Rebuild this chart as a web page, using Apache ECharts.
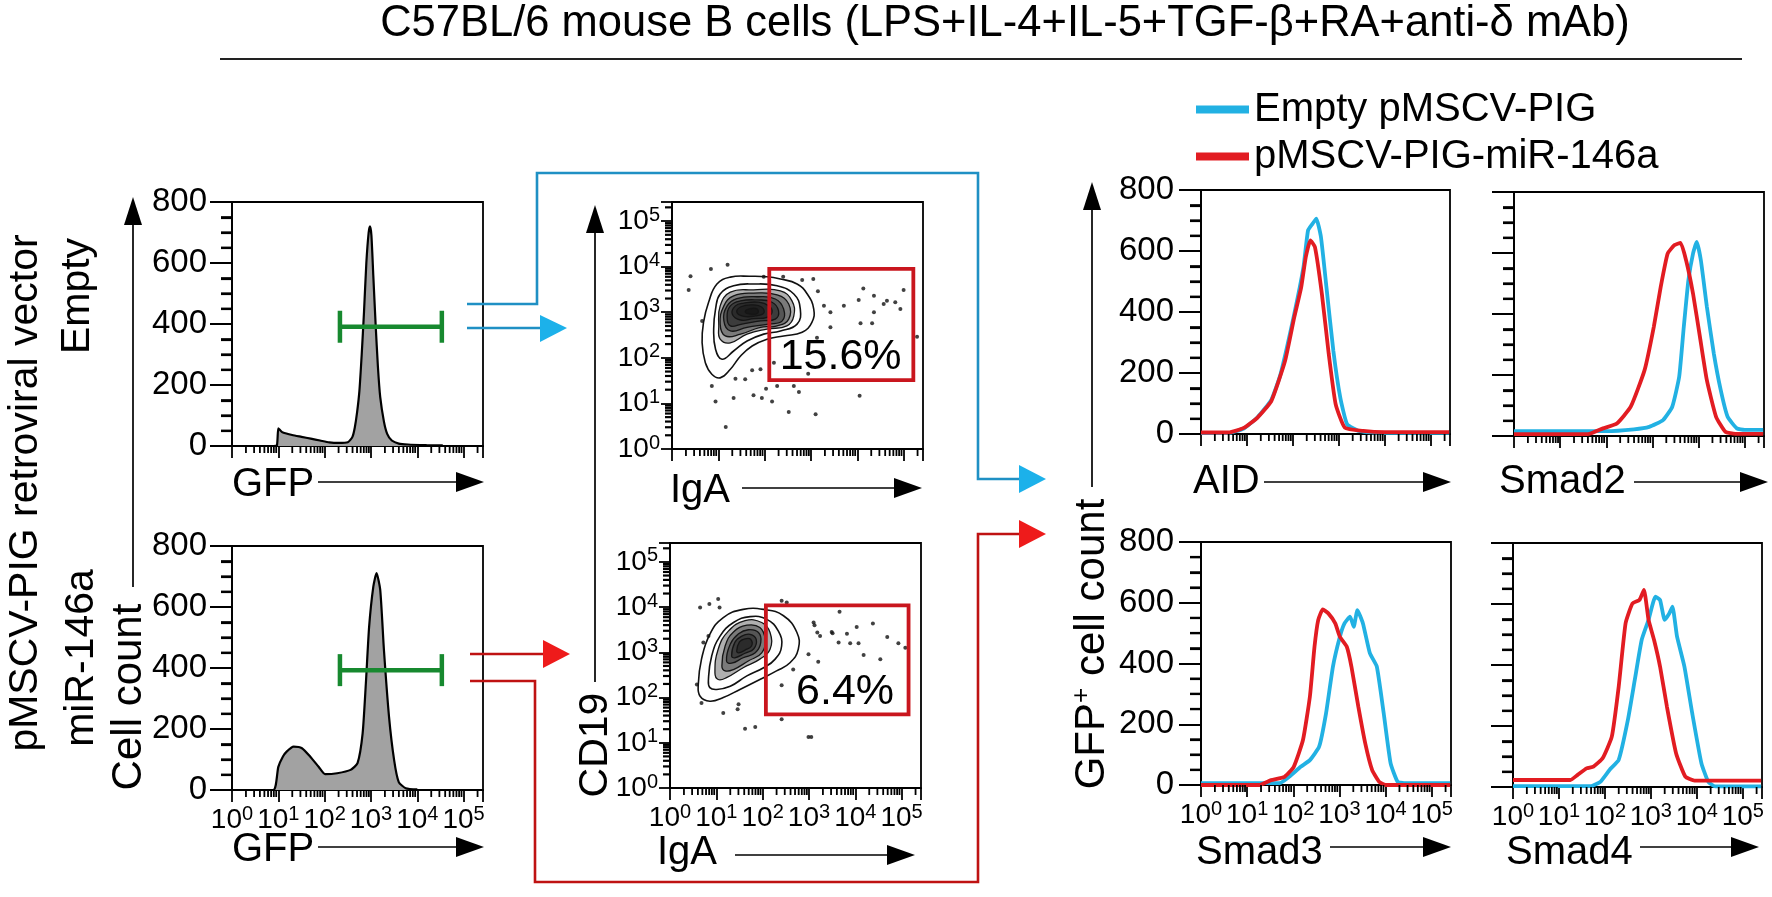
<!DOCTYPE html>
<html><head><meta charset="utf-8">
<script src="https://cdn.jsdelivr.net/npm/echarts@6/dist/echarts.min.js"></script>
<style>html,body{margin:0;padding:0;background:#fff}#c{width:1772px;height:897px}</style>
</head><body><div id="c"></div>
<script>
const FONT = '"Liberation Sans", Arial, Helvetica, sans-serif';
const LOGMAX = 5.4185;           // log10(262144), top of the FACS scale
const DECADES = [0, 1, 2, 3, 4, 5];
const MINOR_MULT = [2, 3, 4, 5, 6, 7, 8, 9];
const COUNT_MINOR = [50, 100, 150, 250, 300, 350, 450, 500, 550, 650, 700, 750];

// ---- GFP histograms (x = log10 GFP, y = cell count)
const gfpEmpty = [[0,0],[0.9,0],[0.97,2],[1.0,58],[1.05,50],[1.1,44],[1.3,36],[1.5,30],[1.7,24],[1.9,18],[2.1,12],[2.3,10],[2.5,12],[2.6,30],[2.65,60],[2.7,110],[2.75,180],[2.8,300],[2.85,440],[2.9,600],[2.95,700],[2.98,720],[3.01,690],[3.05,560],[3.1,400],[3.15,260],[3.2,160],[3.28,80],[3.35,40],[3.45,18],[3.6,8],[3.8,5],[4.2,3],[4.55,2]];
const gfpMir = [[0,0],[0.89,0],[1.0,76],[1.1,110],[1.18,126],[1.33,142],[1.51,137],[1.69,109],[1.87,76],[2.01,52],[2.27,55],[2.56,66],[2.71,88],[2.82,186],[2.89,350],[2.96,535],[3.05,666],[3.12,711],[3.2,656],[3.28,459],[3.39,240],[3.5,98],[3.6,26],[3.75,6],[4.0,2]];
// GFP+ gates: [from, to, level]
const gfpGateEmpty = [2.33, 4.53, 391];
const gfpGateMir = [2.33, 4.53, 393];

// ---- IgA vs CD19 contour plots (log10 units)
const contourEmpty = [
 [[0.65,2.33],[0.68,2.78],[0.79,3.22],[0.97,3.62],[1.26,3.77],[1.69,3.79],[2.05,3.78],[2.34,3.73],[2.70,3.62],[2.92,3.40],[3.06,3.07],[3.02,2.78],[2.81,2.56],[2.41,2.48],[2.05,2.41],[1.73,2.26],[1.48,2.04],[1.26,1.75],[1.04,1.56],[0.86,1.64],[0.72,1.89]],
 [[0.90,2.63],[0.94,3.07],[1.04,3.40],[1.33,3.58],[1.76,3.62],[2.27,3.58],[2.63,3.40],[2.77,3.07],[2.70,2.74],[2.34,2.59],[1.98,2.52],[1.62,2.37],[1.33,2.15],[1.08,1.97],[0.94,2.19]],
 [[1.01,2.70],[1.04,3.14],[1.26,3.44],[1.76,3.49],[2.34,3.47],[2.59,3.25],[2.63,2.92],[2.48,2.70],[2.05,2.63],[1.62,2.52],[1.26,2.33],[1.04,2.41]],
 [[1.04,2.74],[1.12,3.14],[1.33,3.36],[1.76,3.42],[2.27,3.38],[2.52,3.18],[2.52,2.85],[2.27,2.70],[1.91,2.67],[1.48,2.52],[1.15,2.48]],
 [[1.12,2.81],[1.19,3.14],[1.40,3.30],[1.84,3.34],[2.23,3.29],[2.41,3.07],[2.38,2.81],[2.09,2.74],[1.62,2.67],[1.26,2.59]],
 [[1.19,2.89],[1.26,3.14],[1.48,3.25],[1.84,3.27],[2.16,3.22],[2.30,3.03],[2.23,2.85],[1.91,2.81],[1.51,2.74],[1.26,2.70]],
 [[1.30,2.96],[1.37,3.14],[1.55,3.20],[1.87,3.22],[2.09,3.14],[2.16,3.00],[2.05,2.89],[1.76,2.86],[1.48,2.83]],
 [[1.40,3.00],[1.49,3.12],[1.73,3.16],[1.94,3.11],[1.98,2.98],[1.80,2.92],[1.55,2.91]],
 [[1.58,3.01],[1.69,3.08],[1.84,3.07],[1.85,2.98],[1.69,2.96]]
];
const dotsEmpty = [[0.40,3.79],[0.36,3.49],[0.84,3.95],[1.20,4.04],[0.65,2.81],[1.98,3.78],[2.40,3.78],[2.81,3.71],[3.05,3.73],[3.15,3.46],[3.28,3.14],[3.42,3.00],[3.71,3.14],[4.03,3.27],[4.13,3.52],[4.36,3.36],[4.64,3.25],[4.57,3.18],[4.82,3.22],[4.93,3.07],[4.36,3.00],[4.07,2.76],[4.32,2.76],[3.42,2.67],[5.29,2.46],[3.13,2.44],[2.20,1.89],[2.94,1.65],[1.91,1.75],[1.73,1.73],[1.37,1.54],[1.58,1.53],[0.86,1.38],[0.94,1.04],[1.33,1.12],[1.76,1.18],[1.94,1.12],[2.03,1.32],[2.16,1.04],[2.27,1.38],[2.63,1.38],[2.74,1.25],[2.52,0.81],[3.10,0.76],[4.05,1.17],[1.16,0.48],[5.00,3.49]];
const gateEmpty = [2.10, 1.51, 5.21, 3.95];      // [IgA from, CD19 from, IgA to, CD19 to]
const gateEmptyLabel = [3.64, 2.02, '15.6%'];

const contourMir = [
 [[0.61,2.29],[0.68,2.85],[0.86,3.40],[1.15,3.77],[1.58,3.95],[2.02,3.95],[2.45,3.81],[2.74,3.44],[2.77,3.07],[2.59,2.77],[2.30,2.59],[1.94,2.40],[1.51,2.18],[1.15,2.00],[0.86,1.92],[0.65,2.03]],
 [[0.83,2.40],[0.90,2.92],[1.08,3.36],[1.37,3.66],[1.73,3.79],[2.09,3.73],[2.34,3.47],[2.41,3.14],[2.27,2.85],[2.02,2.66],[1.66,2.48],[1.30,2.25],[1.01,2.18],[0.86,2.22]],
 [[0.97,2.55],[1.04,3.07],[1.26,3.47],[1.62,3.70],[1.98,3.66],[2.16,3.44],[2.16,3.07],[1.94,2.85],[1.58,2.66],[1.22,2.44],[1.04,2.40]],
 [[1.12,2.70],[1.19,3.14],[1.37,3.45],[1.66,3.60],[1.94,3.55],[2.05,3.29],[1.98,2.99],[1.69,2.81],[1.37,2.62],[1.19,2.59]],
 [[1.22,2.81],[1.30,3.18],[1.48,3.41],[1.69,3.50],[1.91,3.44],[1.96,3.22],[1.84,2.99],[1.58,2.88],[1.33,2.76]],
 [[1.33,2.92],[1.40,3.22],[1.55,3.36],[1.73,3.40],[1.86,3.29],[1.81,3.08],[1.62,2.98],[1.40,2.88]],
 [[1.44,3.03],[1.50,3.23],[1.62,3.30],[1.74,3.29],[1.76,3.14],[1.62,3.05],[1.48,2.99]]
];
const dotsMir = [[0.65,3.99],[0.85,4.07],[1.04,4.18],[1.07,3.99],[0.83,3.36],[0.72,3.22],[0.58,2.29],[0.68,1.88],[1.15,1.66],[1.48,1.85],[1.46,1.74],[1.62,1.31],[1.84,1.35],[2.41,2.27],[2.66,2.62],[2.41,1.52],[3.10,3.66],[3.12,3.60],[3.18,3.44],[3.24,3.36],[3.49,3.45],[3.51,3.42],[3.64,3.22],[3.66,3.90],[3.82,3.41],[3.89,3.20],[4.03,3.56],[4.07,3.20],[4.18,2.94],[4.38,3.64],[4.54,2.85],[4.69,3.34],[4.93,3.20],[5.08,3.10],[2.99,2.96],[3.20,2.79],[2.99,1.13],[3.05,1.13],[2.41,4.14],[2.52,4.10]];
const gateMir = [2.07, 1.63, 5.15, 4.04];
const gateMirLabel = [3.78, 2.12, '6.4%'];

// ---- GFP+ overlays (blue = Empty pMSCV-PIG, red = pMSCV-PIG-miR-146a)
const aidEmpty = [[0,3],[0.6,3],[0.93,18],[1.23,55],[1.53,112],[1.73,196],[2.03,394],[2.23,547],[2.33,668],[2.43,690],[2.51,706],[2.61,646],[2.73,481],[2.88,273],[3.03,120],[3.18,32],[3.43,10],[3.8,4],[5.4,4]];
const aidMir = [[0,5],[0.6,5],[0.93,20],[1.23,54],[1.53,108],[1.83,240],[2.03,383],[2.18,481],[2.28,580],[2.38,635],[2.48,613],[2.63,460],[2.78,262],[2.93,98],[3.13,21],[3.53,10],[4.0,6],[5.4,6]];
const smad2Empty = [[0,16],[2.0,16],[2.6,22],[2.93,30],[3.23,52],[3.43,96],[3.58,194],[3.68,358],[3.78,511],[3.88,598],[3.96,636],[4.05,576],[4.18,424],[4.33,271],[4.48,151],[4.63,63],[4.83,25],[5.0,20],[5.4,20]];
const smad2Mir = [[0,6],[1.6,6],[1.93,25],[2.23,41],[2.53,96],[2.83,216],[3.03,358],[3.18,489],[3.33,598],[3.48,626],[3.61,633],[3.73,576],[3.88,467],[4.03,325],[4.18,183],[4.38,63],[4.58,14],[4.8,7],[5.4,7]];
const smad3Empty = [[0,6],[1.7,6],[1.91,27],[2.16,60],[2.36,82],[2.56,126],[2.71,236],[2.86,390],[3.01,488],[3.11,532],[3.23,554],[3.31,521],[3.39,576],[3.51,532],[3.66,434],[3.81,390],[3.96,236],[4.11,71],[4.26,11],[4.4,6],[5.4,6]];
const smad3Mir = [[0,0],[1.27,0],[1.52,16],[1.81,27],[2.01,60],[2.21,148],[2.36,291],[2.46,455],[2.54,543],[2.64,578],[2.76,565],[2.91,532],[3.01,488],[3.16,455],[3.26,390],[3.41,258],[3.56,137],[3.71,49],[3.86,11],[4.0,0],[5.4,0]];
const smad4Empty = [[0,3],[1.7,3],[1.9,17],[2.1,56],[2.3,89],[2.5,220],[2.65,351],[2.8,482],[2.95,548],[3.1,624],[3.2,613],[3.3,548],[3.4,569],[3.47,591],[3.57,493],[3.73,395],[3.9,242],[4.1,78],[4.25,17],[4.4,2],[5.4,2]];
const smad4Mir = [[0,23],[1.25,23],[1.4,39],[1.6,61],[1.75,67],[1.95,94],[2.15,165],[2.3,329],[2.45,537],[2.6,602],[2.75,613],[2.85,646],[2.95,548],[3.07,482],[3.2,395],[3.35,263],[3.55,110],[3.75,34],[3.95,21],[5.4,21]];

const NAME_EMPTY = 'Empty pMSCV-PIG';
const NAME_MIR = 'pMSCV-PIG-miR-146a';
const BLUE = '#22b1e3', RED = '#e21c22';

// ---------------------------------------------------------------
const minorLog = [];
DECADES.forEach(d => MINOR_MULT.forEach(m => { const v = d + Math.log10(m); if (v < LOGMAX) minorLog.push(v); }));

const GRIDS = [
  {left:232, top:202, width:251, height:244},  // 0 GFP empty
  {left:232, top:546, width:251, height:244},  // 1 GFP miR
  {left:672, top:202, width:251, height:247},  // 2 contour empty
  {left:670, top:543, width:251, height:245},  // 3 contour miR
  {left:1201, top:190, width:249, height:244}, // 4 AID
  {left:1514, top:192, width:250, height:244}, // 5 Smad2
  {left:1201, top:542, width:250, height:243}, // 6 Smad3
  {left:1513, top:543, width:249, height:244}  // 7 Smad4
].map(g => Object.assign({show:true, borderColor:'#000', borderWidth:1.8, backgroundColor:'transparent', outerBoundsMode:'none', containLabel:false}, g));

const logLabel = v => Math.abs(v - Math.round(v)) < 1e-6 ? '{b|10}{s|' + Math.round(v) + '}' : '';
const logRich = {
  b:{fontSize:28, lineHeight:32, fontFamily:FONT, color:'#000'},
  s:{fontSize:20, lineHeight:20, verticalAlign:'top', fontFamily:FONT, color:'#000'}
};
const AX = {color:'#000', width:1.8};

function xLog(gi, show){
  return {type:'value', gridIndex:gi, min:0, max:LOGMAX, interval:1,
    axisLine:{show:true, onZero:false, lineStyle:AX},
    axisTick:{show:true, length:12, lineStyle:AX},
    axisLabel:{show:show, formatter:logLabel, rich:logRich, margin:14},
    splitLine:{show:false}};
}
function yLog(gi){
  return {type:'value', gridIndex:gi, min:0, max:LOGMAX, interval:1,
    axisLine:{show:true, onZero:false, lineStyle:AX},
    axisTick:{show:true, length:11, lineStyle:AX},
    axisLabel:{show:true, formatter:logLabel, rich:logRich, margin:12},
    splitLine:{show:false}};
}
function yCount(gi, show, margin){
  return {type:'value', gridIndex:gi, min:0, max:800, interval:200,
    axisLine:{show:true, onZero:false, lineStyle:AX},
    axisTick:{show:true, length:22, lineStyle:{color:'#000', width:2}},
    minorTick:{show:true, splitNumber:4, length:11, lineStyle:{color:'#000', width:2.2}},
    axisLabel:{show:show, fontSize:33, fontFamily:FONT, color:'#000', margin:margin},
    splitLine:{show:false}, minorSplitLine:{show:false}};
}

const xAxes = [xLog(0,false), xLog(1,true), xLog(2,false), xLog(3,true), xLog(4,false), xLog(5,false), xLog(6,true), xLog(7,true)];
const yAxes = [yCount(0,true,25), yCount(1,true,25), yLog(2), yLog(3), yCount(4,true,27), yCount(5,false,27), yCount(6,true,27), yCount(7,false,27)];

const series = [];
// log minor ticks on the x axes (one group per panel)
function minorTicksX(gi){
  series.push({type:'custom', xAxisIndex:gi, yAxisIndex:gi, silent:true, clip:false, z:20,
    data:[[0, 0]], encode:{x:0, y:1},
    renderItem:(p, api) => {
      const kids = minorLog.map(v => { const c = api.coord([v, 0]);
        return {type:'rect', shape:{x:c[0] - 0.9, y:c[1], width:1.8, height:7}, style:{fill:'#000'}}; });
      return {type:'group', children:kids};
    }});
}
[0,1,2,3,4,5,6,7].forEach(minorTicksX);

// GFP histograms
[[gfpEmpty,0,'GFP empty'],[gfpMir,1,'GFP miR-146a']].forEach(([d,gi,nm]) => {
  series.push({type:'line', name:nm, xAxisIndex:gi, yAxisIndex:gi, data:d, showSymbol:false, smooth:0.2,
    lineStyle:{color:'#000', width:2.2}, itemStyle:{color:'#000'}, areaStyle:{color:'#a2a2a2', opacity:1}, z:3});
});
// green gates
[[gfpGateEmpty,0],[gfpGateMir,1]].forEach(([g,gi]) => {
  series.push({type:'custom', xAxisIndex:gi, yAxisIndex:gi, data:[g], encode:{x:[0,1], y:2}, z:8,
    renderItem:(p, api) => {
      const a = api.coord([api.value(0), api.value(2)]), b = api.coord([api.value(1), api.value(2)]);
      const st = {stroke:'#17892f', lineWidth:4.5};
      return {type:'group', children:[
        {type:'line', shape:{x1:a[0], y1:a[1], x2:b[0], y2:b[1]}, style:st},
        {type:'line', shape:{x1:a[0], y1:a[1]-16, x2:a[0], y2:a[1]+16}, style:st},
        {type:'line', shape:{x1:b[0], y1:b[1]-16, x2:b[0], y2:b[1]+16}, style:st}]};
    }});
});

// contour plots
function contourSeries(rings, dots, gate, label, gi){
  series.push({type:'custom', xAxisIndex:gi, yAxisIndex:gi, data:rings.map((r,i) => [r[0][0], r[0][1], i]), encode:{x:0, y:1}, z:3, clip:true,
    renderItem:(p, api) => {
      const i = p.dataIndex;
      const pts = rings[i].map(q => api.coord(q));
      return {type:'polygon', shape:{points:pts, smooth:0.45},
        style:{fill: i < 2 ? 'none' : 'rgba(10,10,10,0.32)', stroke: i < 2 ? '#111' : '#151515', lineWidth: i < 2 ? 1.6 : 1.3}};
    }});
  series.push({type:'scatter', xAxisIndex:gi, yAxisIndex:gi, data:dots, symbolSize:4, itemStyle:{color:'#111'}, z:4, silent:true});
  series.push({type:'custom', xAxisIndex:gi, yAxisIndex:gi, data:[gate], encode:{x:[0,2], y:[1,3]}, z:7,
    renderItem:(p, api) => {
      const a = api.coord([api.value(0), api.value(3)]), b = api.coord([api.value(2), api.value(1)]);
      return {type:'rect', shape:{x:a[0], y:a[1], width:b[0]-a[0], height:b[1]-a[1]}, style:{fill:'none', stroke:'#c9161e', lineWidth:3.8}};
    }});
  series.push({type:'custom', xAxisIndex:gi, yAxisIndex:gi, data:[[label[0], label[1]]], encode:{x:0, y:1}, z:9,
    renderItem:(p, api) => {
      const c = api.coord([api.value(0), api.value(1)]);
      return {type:'text', x:c[0], y:c[1], style:{text:label[2], fontSize:43, fontFamily:FONT, fill:'#000', align:'center', verticalAlign:'middle'}};
    }});
}
contourSeries(contourEmpty, dotsEmpty, gateEmpty, gateEmptyLabel, 2);
contourSeries(contourMir, dotsMir, gateMir, gateMirLabel, 3);

// overlays
[[aidEmpty,aidMir,4],[smad2Empty,smad2Mir,5],[smad3Empty,smad3Mir,6],[smad4Empty,smad4Mir,7]].forEach(([e,m,gi]) => {
  series.push({type:'line', name:NAME_EMPTY, xAxisIndex:gi, yAxisIndex:gi, data:e, showSymbol:false, smooth:0.15,
    lineStyle:{color:BLUE, width:3.8}, itemStyle:{color:BLUE}, z:3});
  series.push({type:'line', name:NAME_MIR, xAxisIndex:gi, yAxisIndex:gi, data:m, showSymbol:false, smooth:0.15,
    lineStyle:{color:RED, width:3.8}, itemStyle:{color:RED}, z:4});
});

// ---- decorations (layout only)
const BLK = '#000';
function txt(x, y, text, size, align){ return {type:'text', x:x, y:y, z:100,
  style:{text:text, fontSize:size, fontFamily:FONT, fill:BLK, align:align || 'left', verticalAlign:'middle'}}; }
function vtxt(x, y, text, size, rich){ return {type:'text', x:x, y:y, rotation:Math.PI/2, z:100,
  style:{text:text, fontSize:size, fontFamily:FONT, fill:BLK, align:'center', verticalAlign:'middle', rich:rich}}; }
function line(pts, color, w){ return {type:'polyline', z:90, shape:{points:pts}, style:{stroke:color, lineWidth:w, fill:null}}; }
function tri(pts, color){ return {type:'polygon', z:91, shape:{points:pts}, style:{fill:color}}; }
function hArrow(x1, x2, y){ return [line([[x1,y],[x2-26,y]], BLK, 1.7), tri([[x2-28,y-10],[x2,y],[x2-28,y+10]], BLK)]; }
function vArrow(x, yTip, yEnd){ return [line([[x,yTip+26],[x,yEnd]], BLK, 1.7), tri([[x-9,yTip+28],[x,yTip],[x+9,yTip+28]], BLK)]; }

const BLINE = '#1f90c4', BHEAD = '#1cb1ea', RLINE = '#bf1212', RHEAD = '#ee1b1b';
const graphic = [
  txt(1005, 24, 'C57BL/6 mouse B cells (LPS+IL-4+IL-5+TGF-\u03b2+RA+anti-\u03b4 mAb)', 43.5, 'center'),
  line([[220,59],[1742,59]], '#222', 2.2),
  vtxt(26, 493, 'pMSCV-PIG retroviral vector', 41),
  vtxt(78, 296, 'Empty', 41),
  vtxt(82, 658, 'miR-146a', 41),
  vtxt(129, 697, 'Cell count', 42),
  vtxt(596, 745, 'CD19', 41),
  vtxt(1092, 644, '{a|GFP}{s|+}{a| cell count}', 42, {a:{fontSize:42, fontFamily:FONT, lineHeight:46, fill:BLK}, s:{fontSize:26, fontFamily:FONT, lineHeight:26, verticalAlign:'top', fill:BLK}}),
  ...vArrow(133, 197, 587),
  ...vArrow(595, 205, 682),
  ...vArrow(1092, 182, 487),
  txt(232, 485, 'GFP', 40), ...hArrow(318, 484, 482),
  txt(232, 850, 'GFP', 40), ...hArrow(318, 484, 847),
  txt(670, 491, 'IgA', 40), ...hArrow(742, 922, 488),
  txt(657, 853, 'IgA', 40), ...hArrow(735, 915, 855),
  txt(1193, 482, 'AID', 40), ...hArrow(1264, 1451, 482),
  txt(1499, 482, 'Smad2', 40), ...hArrow(1634, 1768, 482),
  txt(1196, 853, 'Smad3', 40), ...hArrow(1330, 1451, 847),
  txt(1506, 853, 'Smad4', 40), ...hArrow(1640, 1759, 847),
  // connectors
  line([[467,304],[537,304],[537,173],[978,173],[978,479],[1021,479]], BLINE, 2.6),
  tri([[1019,465],[1046,479],[1019,493]], BHEAD),
  line([[467,328],[541,328]], BLINE, 2.6),
  tri([[540,315],[567,328],[540,342]], BHEAD),
  line([[470,654],[544,654]], RLINE, 2.6),
  tri([[543,640],[570,654],[543,668]], RHEAD),
  line([[470,681],[535,681],[535,882],[978,882],[978,534],[1021,534]], RLINE, 2.6),
  tri([[1019,520],[1046,534],[1019,548]], RHEAD)
];

const option = {
  animation:false,
  backgroundColor:'#fff',
  textStyle:{fontFamily:FONT},
  grid:GRIDS,
  xAxis:xAxes,
  yAxis:yAxes,
  legend:{show:true, data:[NAME_EMPTY, NAME_MIR], orient:'vertical', left:1191, top:84,
    itemWidth:53, itemHeight:8, itemGap:6, icon:'rect', selectedMode:false,
    textStyle:{fontSize:40, fontFamily:FONT, color:'#000', lineHeight:41}},
  series:series,
  graphic:graphic
};
const chart = echarts.init(document.getElementById('c'), null, {renderer:'canvas'});
chart.setOption(option);

// y-axis minor ticks, placed through the chart's own scales (count axes: 50 steps, dot plots: log decades)
const yTickSets = [[0, COUNT_MINOR, 11], [1, COUNT_MINOR, 11], [2, minorLog, 7], [3, minorLog, 7],
                   [4, COUNT_MINOR, 11], [5, COUNT_MINOR, 11], [6, COUNT_MINOR, 11], [7, COUNT_MINOR, 11]];
const extra = [];
yTickSets.forEach(([gi, vals, len]) => {
  vals.forEach(v => {
    const c = chart.convertToPixel({gridIndex:gi}, [0, v]);
    if (c && isFinite(c[0]) && isFinite(c[1])) {
      extra.push({type:'rect', z:95, shape:{x:c[0] - len, y:c[1] - 1.1, width:len, height:2.2}, style:{fill:'#000'}});
    }
  });
});
chart.setOption({graphic: graphic.concat(extra)});
</script></body></html>
